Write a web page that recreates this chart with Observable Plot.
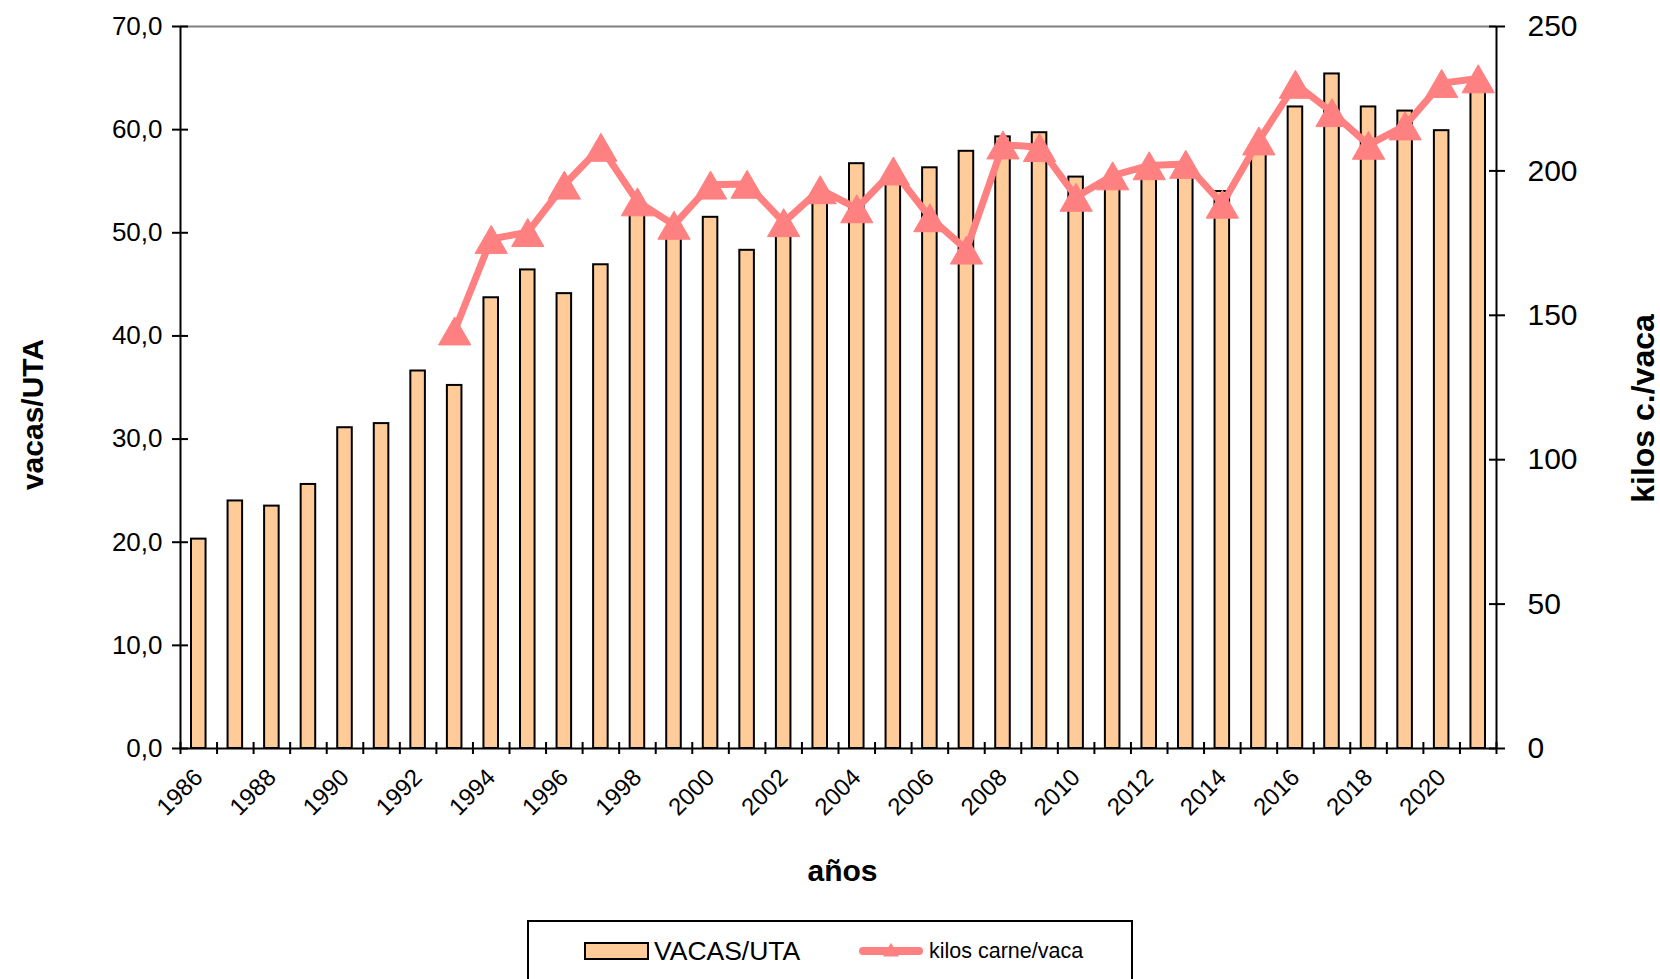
<!DOCTYPE html>
<html><head><meta charset="utf-8">
<script src="https://cdn.jsdelivr.net/npm/d3@7"></script>
<script src="https://cdn.jsdelivr.net/npm/@observablehq/plot@0.6"></script>
<style>
body{margin:0;background:#fff;font-family:"Liberation Sans",Arial,sans-serif;}
#wrap{position:relative;width:1660px;height:979px;overflow:hidden;background:#fff;}
#legend{position:absolute;left:527px;top:920px;}
</style></head><body><div id="wrap"></div>
<script>
const years = [1986,1987,1988,1989,1990,1991,1992,1993,1994,1995,1996,1997,1998,1999,2000,2001,2002,2003,2004,2005,2006,2007,2008,2009,2010,2011,2012,2013,2014,2015,2016,2017,2018,2019,2020,2021];
const vacasUTA = [20.3,24.0,23.5,25.6,31.1,31.5,36.6,35.2,43.7,46.4,44.1,46.9,52.5,50.0,51.5,48.3,50.5,53.5,56.7,55.5,56.3,57.9,59.3,59.7,55.4,55.0,55.5,56.0,54.0,58.3,62.2,65.4,62.2,61.8,59.9,64.3];
const kilosCarneVaca = [null,null,null,null,null,null,null,144.7,176.4,178.8,195.2,208.3,189.4,181.3,195.2,195.5,182.2,193.6,187.0,200.1,183.9,172.7,209.1,208.2,191.0,198.4,201.9,202.4,188.6,210.5,230.1,220.3,209.0,215.7,230.4,232.0];
const leftTicks = [0,10,20,30,40,50,60,70];
const rightTicks = [0,50,100,150,200,250];
const labelYears = [1986,1988,1990,1992,1994,1996,1998,2000,2002,2004,2006,2008,2010,2012,2014,2016,2018,2020];

const data = years.map((year,i)=>({year, vacas: vacasUTA[i], kilos: kilosCarneVaca[i]}));
const lineData = data.filter(d=>d.kilos!=null);
const k = leftTicks[leftTicks.length-1]/rightTicks[rightTicks.length-1];
const boundaries = years.concat([years[years.length-1]+1]).map(y=>y-0.5);

const W=1660, H=915;
const font = '"Liberation Sans", Arial, sans-serif';
const chart = Plot.plot({
  width: W, height: H,
  marginLeft:180, marginRight:164, marginTop:26, marginBottom: H-748,
  style:{fontFamily:font, color:"#000", background:"#fff", overflow:"visible"},
  x:{type:"linear", domain:[years[0]-0.5, years[years.length-1]+0.5], axis:null},
  y:{domain:[0,70], axis:null},
  marks:[
    Plot.ruleY([70],{stroke:"#808080",strokeWidth:2}),
    Plot.rectY(data,{x1:d=>d.year-0.5,x2:d=>d.year+0.5,y:"vacas",insetLeft:11,insetRight:11,fill:"#FFCC99",stroke:"#000",strokeWidth:2}),
    Plot.line(lineData,{x:"year",y:d=>d.kilos*k,stroke:"#FF8080",strokeWidth:7,strokeLinejoin:"round"}),
    Plot.dot(lineData,{x:"year",y:d=>d.kilos*k,symbol:"triangle",r:12,fill:"#FF8080",stroke:"#FF8080",strokeWidth:1,dy:5}),
    Plot.ruleX([years[0]-0.5],{stroke:"#000",strokeWidth:2}),
    Plot.ruleX([years[years.length-1]+0.5],{stroke:"#000",strokeWidth:2}),
    Plot.ruleY([0],{stroke:"#000",strokeWidth:2}),
    Plot.axisY(leftTicks,{anchor:"left",tickSize:16,dx:8,tickPadding:10,tickFormat:d=>d.toFixed(1).replace(".",","),fontSize:26,strokeWidth:2,label:null}),
    Plot.axisY(rightTicks.map(t=>t*k),{anchor:"right",tickSize:16,dx:-8,tickPadding:23,tickFormat:d=>String(Math.round(d/k)),fontSize:30,strokeWidth:2,label:null}),
    Plot.axisX(boundaries,{anchor:"bottom",tickSize:12,dy:-6,tickFormat:()=>"",strokeWidth:2,label:null}),
    Plot.axisX(labelYears,{anchor:"bottom",tickSize:0,tickPadding:25,tickRotate:-45,textAnchor:"end",lineAnchor:"middle",tickFormat:d=>String(d),fontSize:24,label:null}),
    Plot.text(["vacas/UTA"],{frameAnchor:"left",rotate:-90,dx:-147,dy:27,fontSize:30,fontWeight:"bold",textAnchor:"middle",lineAnchor:"middle"}),
    Plot.text(["kilos c./vaca"],{frameAnchor:"right",rotate:-90,dx:147,dy:21,fontSize:32,fontWeight:"bold",textAnchor:"middle",lineAnchor:"middle"}),
    Plot.text(["años"],{frameAnchor:"bottom",dx:4,dy:123,fontSize:30,fontWeight:"bold",textAnchor:"middle",lineAnchor:"middle"})
  ]
});
const wrap = document.getElementById("wrap");
wrap.appendChild(chart);

// legend
const lg = d3.create("svg").attr("id","legend").attr("width",606).attr("height",70)
  .style("font-family",font);
lg.append("rect").attr("x",1).attr("y",1).attr("width",604).attr("height",90).attr("fill","#fff").attr("stroke","#000").attr("stroke-width",2);
lg.append("rect").attr("x",58).attr("y",23).attr("width",63).attr("height",16).attr("fill","#FFCC99").attr("stroke","#000").attr("stroke-width",2);
lg.append("text").attr("x",127).attr("y",31).attr("dominant-baseline","central").attr("font-size",26.5).text("VACAS/UTA");
lg.append("line").attr("x1",336).attr("x2",392).attr("y1",31).attr("y2",31).attr("stroke","#FF8080").attr("stroke-width",8).attr("stroke-linecap","round");
lg.append("path").attr("d",d3.symbol(d3.symbolTriangle,110)()).attr("transform","translate(364,32)").attr("fill","#FF8080");
lg.append("text").attr("x",402).attr("y",31).attr("dominant-baseline","central").attr("font-size",21.5).text("kilos carne/vaca");
wrap.appendChild(lg.node());
</script></body></html>
